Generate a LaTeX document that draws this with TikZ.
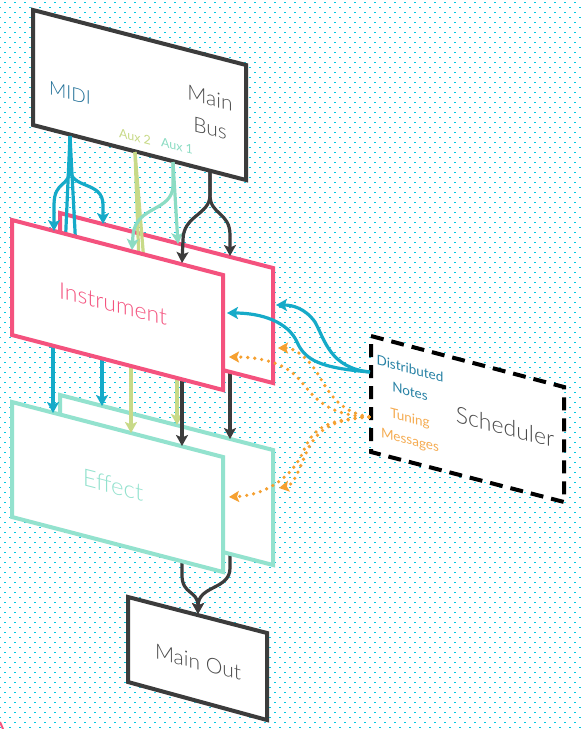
\documentclass[tikz,border=0pt]{standalone}
\usepackage{fontspec}
\setmainfont{Lato Light}
\newfontfamily\regfont{Lato}
\usetikzlibrary{arrows.meta}
\definecolor{dotc}{RGB}{0,200,225}
\definecolor{pinkc}{RGB}{244,82,126}
\definecolor{mintc}{RGB}{147,226,206}
\definecolor{bluec}{RGB}{22,170,200}
\definecolor{midic}{RGB}{30,110,150}
\definecolor{notec}{RGB}{40,130,165}
\definecolor{yelc}{RGB}{200,218,136}
\definecolor{aux1c}{RGB}{140,220,195}
\definecolor{orngc}{RGB}{245,160,48}
\definecolor{tunec}{RGB}{245,172,82}
\definecolor{darkc}{RGB}{60,60,60}
\definecolor{textc}{RGB}{74,74,74}
\begin{document}
\begin{tikzpicture}[x=1pt,y=-1pt,
  dotrow/.style={line width=1.3pt, dotc, dash pattern=on 1.3pt off 8.7pt},
  conn/.style={line width=3.2pt},
  arr/.style={-{Stealth[length=11pt,width=12pt,inset=2.5pt]}},
  odots/.style={line width=3.6pt, orngc, dash pattern=on 0pt off 7pt, line cap=round,
     -{Stealth[length=10pt,width=11pt,inset=2pt]}},
  boxline/.style={line width=4pt, line join=miter, fill=white},
  txt/.style={inner sep=0pt, yslant=-0.258, align=center},
]
\useasboundingbox (0,0) rectangle (583,729);
\fill[white] (0,0) rectangle (583,729);
\foreach \r in {0,...,72}{
  \pgfmathsetmacro\ya{2.7+10*\r}
  \pgfmathsetmacro\yb{7.7+10*\r}
  \draw[dotrow] (4.35,\ya) -- (590,\ya);
  \draw[dotrow] (-0.65,\yb) -- (590,\yb);
}
% ---------- Main Bus ----------
\draw[boxline, draw=darkc] (33,10) -- (246,65) -- (246,180) -- (33,125) -- cycle;
\node[txt, text=midic, font=\fontsize{19}{22}\selectfont] (midi) at (70,93) {MIDI};
\node[txt, text=textc, font=\fontsize{21}{30}\selectfont] (mainbus) at (210,113) {Main\\Bus};
\node[txt, text=yelc, font=\regfont\fontsize{12.5}{15}\selectfont] (aux2) at (135,137) {Aux 2};
\node[txt, text=aux1c, font=\regfont\fontsize{12.5}{15}\selectfont] (aux1) at (177,146) {Aux 1};
\coordinate (m0) at (70,136);
\coordinate (a2) at (135,152);
\coordinate (a1) at (173,162);
\coordinate (b0) at (210,170);
% ---------- Main Out ----------
\draw[boxline, draw=darkc] (128,597) -- (267,633) -- (267,720) -- (128,682) -- cycle;
\node[txt, text=textc, font=\fontsize{21}{24}\selectfont] (mainout) at (198,662) {Main Out};
\coordinate (moin) at (198,614);
% ---------- Scheduler ----------
\draw[line width=4pt, draw=black, dash pattern=on 13pt off 8pt, fill=white]
  (371,336) -- (564,387) -- (564,502) -- (371,452) -- cycle;
\node[txt, text=textc, font=\fontsize{23}{26}\selectfont] (sched) at (505,427) {Scheduler};
\node[txt, text=notec, font=\regfont\fontsize{13.5}{23}\selectfont] (notes) at (410,380) {Distributed\\Notes};
\node[txt, text=tunec, font=\regfont\fontsize{13.5}{22}\selectfont] (tune) at (410,430) {Tuning\\Messages};
\coordinate (s1) at (370,372);
\coordinate (s2) at (369,417);
% ---------- Effect -> Main Out ----------
\draw[conn, darkc, arr] (182,555) -- (182,575) .. controls (182,595) and (198,590) .. (moin);
\draw[conn, darkc, arr] (230,545) -- (230,568) .. controls (230,590) and (198,585) .. (moin);
% ---------- Effect boxes ----------
\draw[boxline, draw=mintc] (60,395) -- (273,450) -- (273,565) -- (60,510) -- cycle;
\draw[boxline, draw=mintc] (12,402) -- (223,457) -- (223,572) -- (12,517) -- cycle;
\node[txt, text=mintc, font=\fontsize{24}{26}\selectfont] (effect) at (113,485) {Effect};
% ---------- Instrument -> Effect ----------
\coordinate (e1) at (53,413);
\coordinate (e2) at (102,406);
\coordinate (e3) at (131,433);
\coordinate (e4) at (177,425);
\coordinate (e5) at (182,446);
\coordinate (e6) at (230,439);
\draw[conn, bluec, arr] (53,340) -- (e1);
\draw[conn, bluec, arr] (102,350) -- (e2);
\draw[conn, yelc, arr] (131,360) -- (e3);
\draw[conn, yelc, arr] (177,370) -- (e4);
\draw[conn, darkc, arr] (182,370) -- (e5);
\draw[conn, darkc, arr] (230,365) -- (e6);
% ---------- Instrument boxes ----------
\draw[boxline, draw=pinkc] (60,213) -- (273,268) -- (273,383) -- (60,328) -- cycle;
\draw[conn, bluec] (m0) -- (65,250);
\draw[conn, bluec] (m0) -- (76,250);
\draw[conn, yelc] (a2) -- (139,262);
\draw[conn, yelc] (a2) -- (144,262);
\draw[boxline, draw=pinkc] (12,220) -- (223,275) -- (223,390) -- (12,335) -- cycle;
\node[txt, text=pinkc, font=\fontsize{23}{26}\selectfont] (instr) at (113,304) {Instrument};
% ---------- Top arrows ----------
\coordinate (i1) at (54,231);
\coordinate (i2) at (103,224);
\coordinate (i3) at (132,250);
\coordinate (i4) at (178,244);
\coordinate (i5) at (182,263);
\coordinate (i6) at (230,256);
\draw[conn, bluec, arr] (m0) -- (70,168) .. controls (70,188) and (54,180) .. (54,205) -- (i1);
\draw[conn, bluec, arr] (m0) -- (70,168) .. controls (70,190) and (103,180) .. (103,205) -- (i2);
\draw[conn, aux1c, arr] (a1) -- (173,185) .. controls (173,212) and (136,205) .. (133,235) -- (i3);
\draw[conn, aux1c, arr] (a1) -- (i4);
\draw[conn, darkc, arr] (b0) -- (210,195) .. controls (210,215) and (183,215) .. (183,240) -- (i5);
\draw[conn, darkc, arr] (b0) -- (210,195) .. controls (210,215) and (230,212) .. (230,235) -- (i6);
% ---------- Scheduler arrows ----------
\coordinate (r1) at (276,305);
\coordinate (r2) at (227,313);
\coordinate (r3) at (278,348);
\coordinate (r4) at (229,357);
\coordinate (r5) at (279,488);
\coordinate (r6) at (229,497);
\draw[conn, bluec, arr] (s1) .. controls (330,368) and (325,340) .. (315,322) .. controls (305,308) and (292,305) .. (r1);
\draw[conn, bluec, arr] (s1) .. controls (320,368) and (305,360) .. (297,342) .. controls (288,322) and (262,313) .. (r2);
\draw[odots] (s2) .. controls (330,410) and (325,380) .. (310,363) .. controls (300,352) and (292,348) .. (r3);
\draw[odots] (s2) .. controls (320,415) and (310,390) .. (297,377) .. controls (285,364) and (262,357) .. (r4);
\draw[odots] (s2) .. controls (330,420) and (320,430) .. (310,445) .. controls (300,465) and (295,485) .. (r5);
\draw[odots] (s2) .. controls (320,420) and (312,432) .. (303,452) .. controls (293,475) and (268,495) .. (r6);
% ---------- corner fragment ----------
\draw[pinkc, line width=2pt] (0,722) -- (3,729);
\end{tikzpicture}
\end{document}
